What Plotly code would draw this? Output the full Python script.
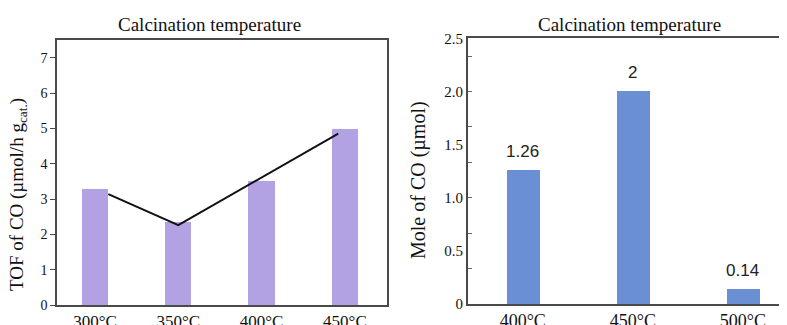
import plotly.graph_objects as go

# ---- data ----
left_categories = ["300°C", "350°C", "400°C", "450°C"]
left_tof = [3.28, 2.36, 3.51, 4.97]
trend_pos = [0.16, 1.0, 2.92]
trend_tof = [3.14, 2.26, 4.85]
left_yticks = [0, 1, 2, 3, 4, 5, 6, 7]

right_categories = ["400°C", "450°C", "500°C"]
right_mole = [1.26, 2.0, 0.14]
right_labels = ["1.26", "2", "0.14"]
right_ytick_vals = [0, 0.5, 1.0, 1.5, 2.0, 2.5]
right_ytick_text = ["0", "0.5", "1.0", "1.5", "2.0", "2.5"]
right_minor_ticks = [1/3, 2/3, 1.0, 4/3, 5/3, 2.0, 7/3]

SERIF = "Liberation Serif"
SANS = "Liberation Sans"
AXC = "#4a4a4a"

W, H = 787, 325
OFF = 8  # page body margin offset
def px_x(v):
    return (v - OFF) / W
def px_y(v):
    return 1 - (v - OFF) / H

fig = go.Figure()

left_x = list(range(len(left_categories)))
right_x = list(range(len(right_categories)))

fig.add_trace(go.Bar(x=left_x, y=left_tof, width=0.315, marker_color="#b3a2e3",
                     marker_line_width=0, xaxis="x", yaxis="y", showlegend=False))
fig.add_trace(go.Scatter(x=trend_pos, y=trend_tof, mode="lines",
                         line=dict(color="#111111", width=2), xaxis="x", yaxis="y",
                         showlegend=False))
fig.add_trace(go.Bar(x=right_x, y=right_mole, width=0.30, marker_color="#6a8fd5",
                     marker_line_width=0, xaxis="x2", yaxis="y2", showlegend=False))
fig.add_trace(go.Scatter(x=[None], y=[None], xaxis="x2", yaxis="y3", showlegend=False,
                         hoverinfo="skip"))

for xi, v, t in zip(right_x, right_mole, right_labels):
    fig.add_annotation(x=xi, y=v, xref="x2", yref="y2", text=t, showarrow=False,
                       yanchor="bottom", yshift=7,
                       font=dict(family=SANS, size=17, color="#222222"))

ydom_l = [px_y(305), px_y(40)]
ydom_r = [px_y(304), px_y(38.3)]

fig.update_layout(
    width=W, height=H,
    margin=dict(l=0, r=0, t=0, b=0),
    paper_bgcolor="white", plot_bgcolor="white",
    font=dict(family=SERIF, color="#111111", size=15),
    bargap=0,
    xaxis=dict(domain=[px_x(57), px_x(387)], range=[-0.456, 3.505],
               tickmode="array", tickvals=left_x, ticktext=left_categories, ticks="",
               tickfont=dict(family=SERIF, size=17, color="#111111"),
               showline=True, linecolor=AXC, linewidth=1.6, mirror=True,
               showgrid=False, zeroline=False, automargin=False),
    yaxis=dict(domain=ydom_l, range=[0, 7.5], tickmode="array", tickvals=left_yticks,
               ticks="outside", ticklen=5, tickwidth=1.2, tickcolor=AXC,
               tickfont=dict(family=SERIF, size=14, color="#111111"),
               showline=True, linecolor=AXC, linewidth=1.6, mirror=True,
               showgrid=False, zeroline=False, automargin=False),
    xaxis2=dict(domain=[px_x(467.7), px_x(787)], range=[-0.5, 2.4], anchor="y2",
                tickmode="array", tickvals=right_x, ticktext=right_categories, ticks="",
                tickfont=dict(family=SERIF, size=18, color="#111111"),
                showline=True, linecolor=AXC, linewidth=1.6, mirror=True,
                showgrid=False, zeroline=False, automargin=False),
    yaxis2=dict(domain=ydom_r, range=[0, 2.5], anchor="x2",
                tickmode="array", tickvals=right_ytick_vals, ticktext=right_ytick_text,
                ticks="", tickfont=dict(family=SERIF, size=15, color="#111111"),
                showline=True, linecolor=AXC, linewidth=1.6, mirror=False,
                showgrid=False, zeroline=False, automargin=False),
    yaxis3=dict(overlaying="y2", anchor="x2", range=[0, 2.5],
                tickmode="array", tickvals=right_minor_ticks, ticks="inside",
                ticklen=4, tickwidth=1.2,
                tickcolor="#666666", showticklabels=False, showline=False,
                showgrid=False, zeroline=False),
)

# panel titles
for cx in (209, 629):
    fig.add_annotation(x=px_x(cx), y=px_y(25), xref="paper", yref="paper",
                       xanchor="center", yanchor="middle",
                       text="Calcination temperature", showarrow=False,
                       font=dict(family=SERIF, size=19, color="#111111"))
# axis titles
fig.add_annotation(x=px_x(18), y=px_y(195), xref="paper", yref="paper",
                   xanchor="center", yanchor="middle",
                   text="TOF of CO (µmol/h g<sub>cat.</sub>)", showarrow=False,
                   textangle=-90,
                   font=dict(family=SERIF, size=19, color="#111111"))
fig.add_annotation(x=px_x(418), y=px_y(180), xref="paper", yref="paper",
                   xanchor="center", yanchor="middle",
                   text="Mole of CO (µmol)", showarrow=False, textangle=-90,
                   font=dict(family=SERIF, size=20, color="#111111"))

fig.write_html("out.html")
